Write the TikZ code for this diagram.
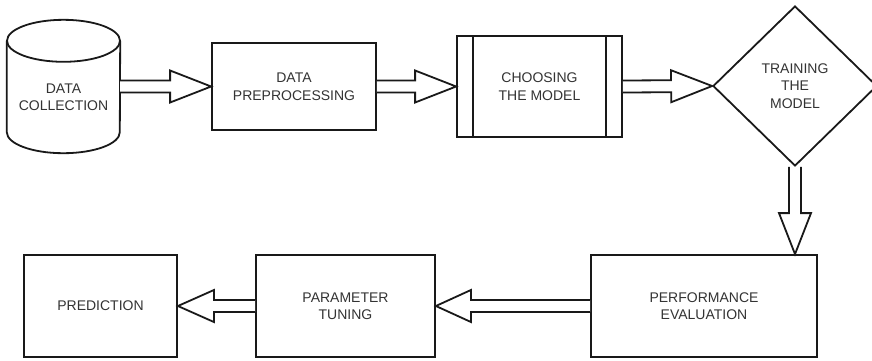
\documentclass[tikz,border=0pt]{standalone}
\usepackage{fontspec}
\setmainfont{Liberation Sans}
\usetikzlibrary{calc,shapes.geometric}

\tikzset{
  outline/.style={draw=black!90, line width=1.8pt},
  caption/.style={align=center, inner sep=0pt, text=black!80,
    font=\fontsize{14}{17.5}\selectfont},
  box/.style={outline, caption, rectangle},
  arrowline/.style={draw=black!90, line width=1.8pt, line join=miter, fill=white},
}

% hollow block arrow: optional head length, source point, tip point
\newcommand\blockarrow[3][41pt]{%
  \path ($(#3)!#1!(#2)$) coordinate (ba-h);
  \draw[arrowline]
    ($(#2)!6pt!90:(#3)$) -- ($(ba-h)!6pt!90:(#3)$) -- ($(ba-h)!16pt!90:(#3)$)
    -- (#3)
    -- ($(ba-h)!16pt!-90:(#3)$) -- ($(ba-h)!6pt!-90:(#3)$) -- ($(#2)!6pt!-90:(#3)$);
}

\begin{document}
\begin{tikzpicture}[x=1pt,y=-1pt]
\useasboundingbox (0,0) rectangle (872,360);
\fill[white] (0,0) rectangle (872,360);
\clip (0,0) rectangle (872,360);

% data store (cylinder body carries the label)
\node[caption, minimum width=113pt, minimum height=112pt] (dc) at (63.5,97) {DATA\\COLLECTION};
\draw[outline] (dc.north west) -- ([yshift=21pt]dc.south west)
  arc[start angle=180, end angle=360, x radius=56.5pt, y radius=21pt]
  -- (dc.north east);
\draw[outline] (dc.north) ellipse [x radius=56.5pt, y radius=21pt];

% top row
\node[box, minimum width=164pt, minimum height=87pt] (dp) at (294,86.5) {DATA\\PREPROCESSING};
\node[box, minimum width=165pt, minimum height=101pt] (cm) at (539.5,86.5) {CHOOSING\\THE MODEL};
\draw[outline] ([xshift=17pt]cm.north west) -- ([xshift=17pt]cm.south west);
\draw[outline] ([xshift=-17pt]cm.north east) -- ([xshift=-17pt]cm.south east);
\node[outline, caption, diamond, aspect=1, minimum width=164pt, minimum height=160pt] (td) at (795,86) {TRAINING\\THE\\MODEL};

% bottom row
\node[box, minimum width=226pt, minimum height=102pt] (pe) at (704,306) {PERFORMANCE\\EVALUATION};
\node[box, minimum width=179pt, minimum height=102pt] (pt) at (345.5,306) {PARAMETER\\TUNING};
\node[box, minimum width=153pt, minimum height=102pt] (pr) at (100.5,306) {PREDICTION};

% flow
\blockarrow{dc.east |- dp.west}{dp.west}
\blockarrow{dp.east}{cm.west}
\blockarrow{cm.east}{td.west}
\blockarrow{td.south}{td.south |- pe.north}
\blockarrow[35pt]{pe.west}{pt.east}
\blockarrow[36pt]{pt.west}{pr.east}
\end{tikzpicture}
\end{document}
